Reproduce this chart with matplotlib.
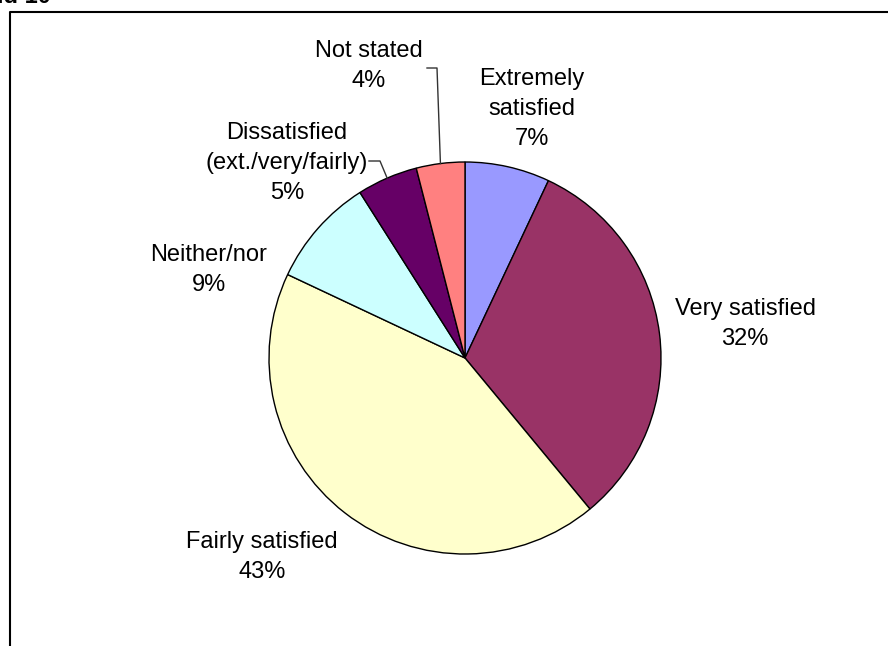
import numpy as np
import matplotlib
matplotlib.use("Agg")
import matplotlib.pyplot as plt

plt.rcParams['font.family'] = ['Liberation Sans', 'DejaVu Sans']

# satisfaction breakdown, clockwise from 12 o'clock
categories = ['Extremely\nsatisfied', 'Very satisfied', 'Fairly satisfied',
              'Neither/nor', 'Dissatisfied\n(ext./very/fairly)', 'Not stated']
values = [7, 32, 43, 9, 5, 4]
colors = ['#9999FF', '#993366', '#FFFFCC', '#CCFFFF', '#660066', '#FF8080']

W, H = 888, 646
fig = plt.figure(figsize=(W / 100, H / 100), dpi=100)
ax = fig.add_axes([0, 0, 1, 1])

# pixel-space layout (y measured from the bottom)
cx, cy, r = 465, H - 358, 196
label_pos = [(532, H - 109), (745, H - 324), (262, H - 557),
             (209, H - 270), (287, H - 163), (369, H - 66)]

wedges, _ = ax.pie(values, colors=colors, startangle=90, counterclock=False,
                   center=(cx, cy), radius=r, frame=True,
                   wedgeprops=dict(edgecolor='black', linewidth=1.0))

for lab, v, (lx, ly) in zip(categories, values, label_pos):
    ax.text(lx, ly, f"{lab}\n{v}%", ha='center', va='center',
            fontsize=17, linespacing=1.45, color='black')

# leader lines for the two small slices
def wedge_edge(w):
    mid = np.deg2rad((w.theta1 + w.theta2) / 2)
    return cx + r * np.cos(mid), cy + r * np.sin(mid)

ex, ey = wedge_edge(wedges[5])
ax.plot([427, 437, ex], [H - 68, H - 68, ey], color='#333333', lw=1)
ex, ey = wedge_edge(wedges[4])
ax.plot([369, 380, ex], [H - 161, H - 161, ey], color='#333333', lw=1)

# chart border, running off the right and bottom edges
ax.plot([10, 10, W + 5], [-5, H - 12, H - 12], color='black', lw=1.5)

# title, mostly cropped above the image
ax.text(-3, H - 3, "ld 10", fontsize=17, fontweight='bold', ha='left', va='baseline')

ax.set_xlim(0, W)
ax.set_ylim(0, H)
ax.set_aspect('auto')
ax.axis('off')

fig.savefig('out.png', dpi=100)
